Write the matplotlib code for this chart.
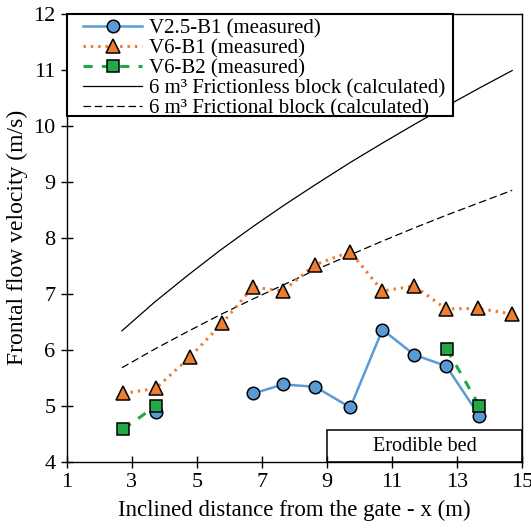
import matplotlib
matplotlib.use('Agg')
from matplotlib import pyplot as plt
from matplotlib.patches import Rectangle

nan = float('nan')

plt.rcParams['font.family'] = ['Liberation Serif', 'DejaVu Serif']

# measured values (nan breaks the line where the reference has no segment)
xV25 = [3.74, nan, 6.74, 7.65, 8.64, 9.72, 10.71, 11.69, 12.67, 13.69]
yV25 = [4.89, nan, 5.22, 5.38, 5.34, 4.97, 6.36, 5.91, 5.71, 4.82]

xV6B1 = [2.74, 3.74, 4.79, 5.79, 6.72, 7.65, 8.64, 9.72, 10.71, 11.69, 12.67, 13.66, 14.69]
yV6B1 = [5.22, 5.31, 5.87, 6.48, 7.12, 7.05, 7.52, 7.75, 7.05, 7.14, 6.73, 6.74, 6.64]

xV6B2 = [2.74, 3.74, nan, 12.69, 13.69]
yV6B2 = [4.58, 5.00, nan, 6.01, 5.00]

# calculated curves
xCalc = [2.7, 3.7, 4.7, 5.7, 6.7, 7.7, 8.7, 9.7, 10.7, 11.7, 12.7, 13.7, 14.7]
yFrictionless = [6.34, 6.85, 7.32, 7.77, 8.19, 8.59, 8.97, 9.34, 9.69, 10.03, 10.36, 10.68, 10.99]
yFrictional = [5.68, 6.01, 6.32, 6.62, 6.90, 7.17, 7.44, 7.69, 7.94, 8.18, 8.41, 8.63, 8.85]

xTicks = [1, 3, 5, 7, 9, 11, 13, 15]
yTicks = [4, 5, 6, 7, 8, 9, 10, 11, 12]

blue = '#5B9BD5'
orange = '#ED7D31'
green = '#22A846'

fig = plt.figure(figsize=[5.31, 5.32], dpi=100)
ax = fig.add_axes([0.1256, 0.1321, 0.8574, 0.8416])

ax.plot(xCalc, yFrictionless, color='black', lw=0.9, label='6 m³ Frictionless block (calculated)', zorder=2)
ax.plot(xCalc, yFrictional, color='black', lw=0.9, ls=(0, (6, 3)), label='6 m³ Frictional block (calculated)', zorder=2)

ax.plot(xV25, yV25, color=blue, lw=1.8, marker='o', ms=9, mfc=blue, mec='black', mew=1.1,
        label='V2.5-B1 (measured)', zorder=3)
ax.plot(xV6B1, yV6B1, color=orange, lw=2.2, ls=(0, (0.8, 1.6)), marker='^', ms=9.5, mfc=orange,
        mec='black', mew=1.1, label='V6-B1 (measured)', zorder=4)
ax.plot(xV6B2, yV6B2, color=green, lw=2.2, ls=(0, (3, 3)), marker='s', ms=8.5, mfc=green,
        mec='black', mew=1.1, label='V6-B2 (measured)', zorder=5)

ax.add_patch(Rectangle((9, 4), 6, 0.56, fill=False, edgecolor='black', lw=1.1, zorder=6))
ax.text(12, 4.27, 'Erodible bed', ha='center', va='center', fontsize=14.5)

ax.set_xlim(1, 15)
ax.set_ylim(4, 12)
ax.set_xticks(xTicks)
ax.set_yticks(yTicks)
ax.tick_params(direction='inout', length=9, width=1, labelsize=16, top=False, right=False)
for s in ax.spines.values():
    s.set_linewidth(1.0)

ax.set_xlabel('Inclined distance from the gate - x (m)', fontsize=16.5, labelpad=6)
ax.set_ylabel('Frontal flow velocity (m/s)', fontsize=17, labelpad=4)

# legend frame drawn separately so its size matches the reference box
ax.add_patch(Rectangle((0, 0.772), 0.848, 0.228, transform=ax.transAxes, facecolor='white',
                       edgecolor='black', lw=1.5, zorder=7, clip_on=False))

handles, labels = ax.get_legend_handles_labels()
order = [2, 3, 4, 0, 1]
leg = ax.legend([handles[i] for i in order], [labels[i] for i in order], loc='upper left',
                bbox_to_anchor=(0.036, 0.989), borderaxespad=0, frameon=False,
                fontsize=15, labelspacing=0.02, handlelength=2.85, handletextpad=0.3,
                borderpad=0)
leg.set_zorder(8)

plt.savefig('out.png', dpi=100)
plt.close()
